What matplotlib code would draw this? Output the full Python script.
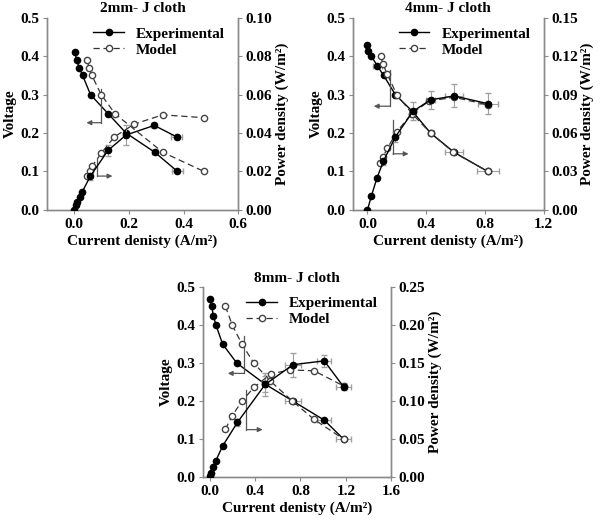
import matplotlib
matplotlib.use("Agg")
import matplotlib.pyplot as plt

plt.rcParams['font.family'] = ['Liberation Serif', 'DejaVu Serif']
plt.rcParams['font.weight'] = 'bold'
plt.rcParams['axes.labelweight'] = 'bold'
plt.rcParams['axes.titleweight'] = 'bold'
plt.rcParams['font.size'] = 11

# ---- 2mm J cloth ----
p1_exp_iv = [0.003, 0.009, 0.019, 0.031, 0.06, 0.125, 0.19, 0.295, 0.378]
p1_exp_v = [0.41, 0.39, 0.37, 0.35, 0.30, 0.25, 0.20, 0.15, 0.10]
p1_exp_v_xerr = [0, 0, 0, 0, 0, 0, 0, 0.01, 0.02]
p1_exp_ip = [0.0, 0.005, 0.011, 0.02, 0.03, 0.059, 0.124, 0.19, 0.293, 0.375]
p1_exp_p = [0.0, 0.0025, 0.004, 0.0065, 0.0095, 0.0175, 0.031, 0.039, 0.044, 0.038]
p1_exp_p_yerr = [0, 0, 0, 0, 0, 0.002, 0.003, 0.005, 0.0015, 0.001]
p1_exp_p_xerr = [0, 0, 0, 0, 0, 0, 0, 0, 0, 0.02]
p1_mod_iv = [0.047, 0.055, 0.065, 0.099, 0.15, 0.324, 0.475]
p1_mod_v = [0.39, 0.37, 0.35, 0.30, 0.25, 0.15, 0.10]
p1_mod_ip = [0.047, 0.057, 0.065, 0.099, 0.147, 0.22, 0.324, 0.475]
p1_mod_p = [0.0177, 0.020, 0.0226, 0.0295, 0.038, 0.0447, 0.0495, 0.048]

# ---- 4mm J cloth ----
p2_exp_iv = [0.0, 0.004, 0.027, 0.067, 0.11, 0.19, 0.31, 0.43, 0.59, 0.82]
p2_exp_v = [0.43, 0.415, 0.40, 0.375, 0.35, 0.30, 0.255, 0.20, 0.15, 0.10]
p2_exp_v_xerr = [0, 0, 0, 0.03, 0, 0, 0, 0.02, 0.06, 0.075]
p2_exp_ip = [0.0, 0.027, 0.065, 0.108, 0.19, 0.31, 0.43, 0.59, 0.82]
p2_exp_p = [0.0, 0.011, 0.025, 0.038, 0.057, 0.077, 0.086, 0.089, 0.083]
p2_exp_p_yerr = [0, 0, 0, 0.003, 0.004, 0.007, 0.007, 0.009, 0.008]
p2_exp_p_xerr = [0, 0, 0, 0, 0, 0, 0.03, 0.06, 0.07]
p2_mod_iv = [0.09, 0.105, 0.135, 0.2, 0.305, 0.43, 0.585, 0.82]
p2_mod_v = [0.40, 0.38, 0.353, 0.30, 0.25, 0.20, 0.15, 0.10]
p2_mod_ip = [0.088, 0.104, 0.135, 0.2, 0.30, 0.42, 0.59, 0.82]
p2_mod_p = [0.037, 0.041, 0.048, 0.061, 0.075, 0.085, 0.088, 0.082]

# ---- 8mm J cloth ----
p3_exp_iv = [0.006, 0.018, 0.033, 0.056, 0.115, 0.24, 0.487, 0.735, 1.01, 1.18]
p3_exp_v = [0.47, 0.45, 0.425, 0.40, 0.35, 0.30, 0.245, 0.20, 0.15, 0.10]
p3_exp_v_xerr = [0, 0, 0, 0, 0, 0, 0, 0.07, 0.06, 0.07]
p3_exp_v_yerr = [0, 0, 0, 0, 0, 0, 0.02, 0, 0, 0]
p3_exp_ip = [0.003, 0.012, 0.03, 0.053, 0.115, 0.245, 0.49, 0.735, 1.01, 1.18]
p3_exp_p = [0.001, 0.005, 0.013, 0.021, 0.041, 0.072, 0.122, 0.148, 0.153, 0.119]
p3_exp_p_yerr = [0, 0, 0, 0, 0, 0.005, 0.015, 0.016, 0.008, 0.005]
p3_exp_p_xerr = [0, 0, 0, 0, 0, 0, 0, 0.07, 0.06, 0.07]
p3_mod_iv = [0.139, 0.2, 0.285, 0.39, 0.535, 0.73, 0.92, 1.18]
p3_mod_v = [0.45, 0.40, 0.35, 0.30, 0.253, 0.20, 0.152, 0.10]
p3_mod_ip = [0.139, 0.2, 0.285, 0.39, 0.54, 0.71, 0.92, 1.18]
p3_mod_p = [0.063, 0.081, 0.10, 0.118, 0.136, 0.141, 0.14, 0.12]

panels = [
    dict(title='2mm- J cloth', pos=[0.078, 0.601, 0.319, 0.365], xlim=(-0.1, 0.6),
         xticks=[0.0, 0.2, 0.4, 0.6], pmax=0.10, pticks=[0.0, 0.02, 0.04, 0.06, 0.08, 0.10],
         exp_iv=p1_exp_iv, exp_v=p1_exp_v, exp_v_xerr=p1_exp_v_xerr, exp_v_yerr=None,
         exp_ip=p1_exp_ip, exp_p=p1_exp_p, exp_p_xerr=p1_exp_p_xerr, exp_p_yerr=p1_exp_p_yerr,
         mod_iv=p1_mod_iv, mod_v=p1_mod_v, mod_ip=p1_mod_ip, mod_p=p1_mod_p,
         arr_v=(0.1, 0.315, 0.227, 0.045), arr_p=(0.085, 0.133, 0.088, 0.14)),
    dict(title='4mm- J cloth', pos=[0.588, 0.601, 0.318, 0.365], xlim=(-0.1, 1.2),
         xticks=[0.0, 0.4, 0.8, 1.2], pmax=0.15, pticks=[0.0, 0.03, 0.06, 0.09, 0.12, 0.15],
         exp_iv=p2_exp_iv, exp_v=p2_exp_v, exp_v_xerr=p2_exp_v_xerr, exp_v_yerr=None,
         exp_ip=p2_exp_ip, exp_p=p2_exp_p, exp_p_xerr=p2_exp_p_xerr, exp_p_yerr=p2_exp_p_yerr,
         mod_iv=p2_mod_iv, mod_v=p2_mod_v, mod_ip=p2_mod_ip, mod_p=p2_mod_p,
         arr_v=(0.156, 0.365, 0.27, 0.043), arr_p=(0.174, 0.234, 0.146, 0.28)),
    dict(title='8mm- J cloth', pos=[0.338, 0.093, 0.314, 0.361], xlim=(-0.06, 1.6),
         xticks=[0.0, 0.4, 0.8, 1.2, 1.6], pmax=0.25, pticks=[0.0, 0.05, 0.10, 0.15, 0.20, 0.25],
         exp_iv=p3_exp_iv, exp_v=p3_exp_v, exp_v_xerr=p3_exp_v_xerr, exp_v_yerr=p3_exp_v_yerr,
         exp_ip=p3_exp_ip, exp_p=p3_exp_p, exp_p_xerr=p3_exp_p_xerr, exp_p_yerr=p3_exp_p_yerr,
         mod_iv=p3_mod_iv, mod_v=p3_mod_v, mod_ip=p3_mod_ip, mod_p=p3_mod_p,
         arr_v=(0.30, 0.371, 0.273, 0.16), arr_p=(0.325, 0.229, 0.125, 0.467)),
]

spine_col = '#8a8a8a'
err_col = '#a0a0a0'
exp_style = dict(color='black', marker='o', ms=4.5, mfc='black', mec='black', lw=1.0)
mod_style = dict(color='#333333', marker='o', ms=4.5, mfc='white', mec='#444444', lw=0.9,
                 ls=(0, (5, 3)))

fig = plt.figure(figsize=(6.0, 5.26), dpi=100)

for p in panels:
    ax = fig.add_axes(p['pos'])
    ax2 = ax.twinx()

    # voltage (left axis)
    ax.errorbar(p['exp_iv'], p['exp_v'], xerr=p['exp_v_xerr'], yerr=p['exp_v_yerr'],
                fmt='none', ecolor=err_col, elinewidth=0.8, capsize=2, zorder=1)
    ax.plot(p['exp_iv'], p['exp_v'], zorder=2, **exp_style)
    ax.plot(p['mod_iv'], p['mod_v'], zorder=3, **mod_style)

    # power density (right axis)
    ax2.errorbar(p['exp_ip'], p['exp_p'], xerr=p['exp_p_xerr'], yerr=p['exp_p_yerr'],
                 fmt='none', ecolor=err_col, elinewidth=0.8, capsize=2, zorder=1)
    ax2.plot(p['mod_ip'], p['mod_p'], zorder=2, **mod_style)
    ax2.plot(p['exp_ip'], p['exp_p'], zorder=3, **exp_style)

    # L-shaped pointer arrows
    for key in ('arr_v', 'arr_p'):
        x0, ytop, ybot, xend = p[key]
        ax.plot([x0, x0], [ytop, ybot], color='#555555', lw=0.9)
        ax.annotate('', xy=(xend, ybot), xytext=(x0, ybot),
                    arrowprops=dict(arrowstyle='-|>', color='#555555', lw=0.9,
                                    mutation_scale=7, shrinkA=0, shrinkB=0))

    ax.set_xlim(*p['xlim'])
    ax.set_ylim(0, 0.5)
    ax2.set_ylim(0, p['pmax'])
    ax.set_xticks(p['xticks'])
    ax.set_xticklabels(['%.1f' % t for t in p['xticks']], fontweight='bold')
    vt = [0.0, 0.1, 0.2, 0.3, 0.4, 0.5]
    ax.set_yticks(vt)
    ax.set_yticklabels(['%.1f' % t for t in vt], fontweight='bold')
    ax2.set_yticks(p['pticks'])
    ax2.set_yticklabels(['%.2f' % t for t in p['pticks']], fontweight='bold')

    ax.set_xlabel('Current denisty (A/m²)', fontweight='bold', labelpad=3)
    ax.set_ylabel('Voltage', fontweight='bold', labelpad=2)
    ax2.set_ylabel('Power density (W/m²)', fontweight='bold', labelpad=2)
    ax.set_title(p['title'], fontsize=11, fontweight='bold', pad=4)

    for a in (ax, ax2):
        a.spines['top'].set_visible(False)
        for s in ('left', 'right', 'bottom'):
            a.spines[s].set_color(spine_col)
            a.spines[s].set_linewidth(1.0)
        a.tick_params(direction='out', length=3, width=0.8, pad=2.5, color=spine_col,
                      labelsize=11)
        a.patch.set_visible(False)

    h1, = ax.plot([], [], **exp_style)
    h2, = ax.plot([], [], **mod_style)
    ax2.legend([h1, h2], ['Experimental', 'Model'], loc='upper right', frameon=False,
               bbox_to_anchor=(0.98, 1.0), handlelength=2.0, handletextpad=0.8,
               labelspacing=0.15, borderaxespad=0.2, prop={'weight': 'bold', 'size': 11})

fig.savefig('out.png', dpi=100)
